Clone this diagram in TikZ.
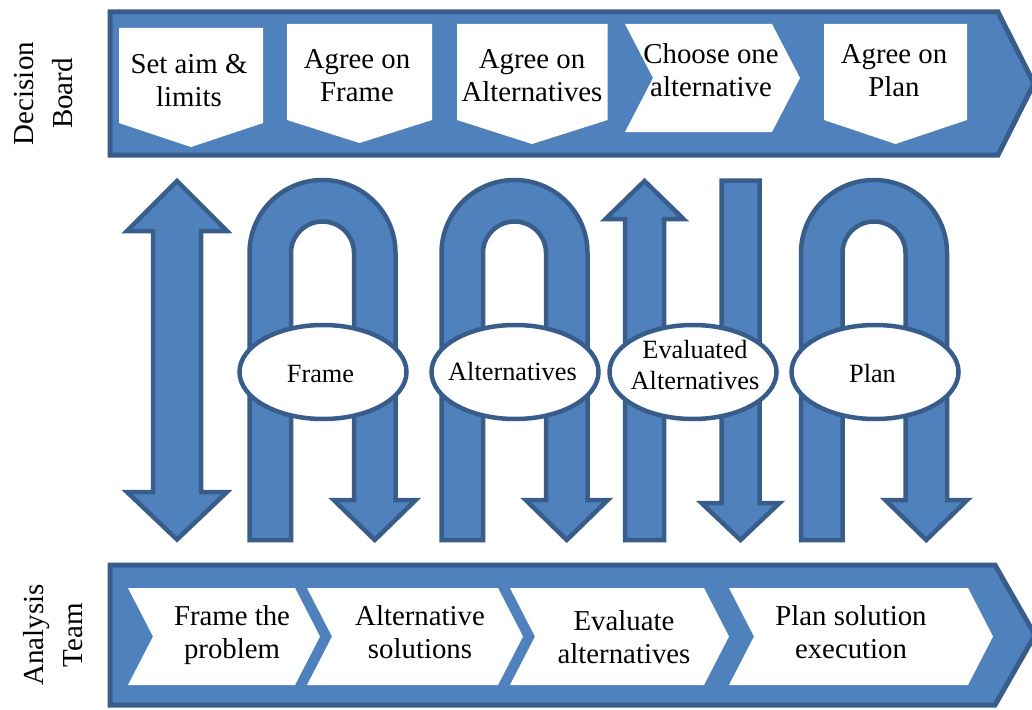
\documentclass[tikz,border=0pt]{standalone}
\usepackage{fontspec}
\setmainfont{Liberation Serif}
\newfontfamily\flowfont{Liberation Serif}
\definecolor{flowblue}{HTML}{4F81BD}
\definecolor{flowedge}{HTML}{385D8A}
\begin{document}
\begin{tikzpicture}[x=1pt,y=-1pt,
  band/.style={fill=flowblue, draw=flowedge, line width=5pt, line join=miter},
  card/.style={fill=white},
  flowarrow/.style={fill=flowblue, draw=flowedge, line width=4.5pt, line join=miter},
  bubble/.style={fill=white, draw=flowedge, line width=4.5pt},
  boxtext/.style={align=center, font=\flowfont\fontsize{28.8}{33}\selectfont, inner sep=0pt},
  bubbletext/.style={align=center, font=\flowfont\fontsize{26.3}{31}\selectfont, inner sep=0pt},
  sidetext/.style={align=center, rotate=90, font=\flowfont\fontsize{29}{39}\selectfont, inner sep=0pt},
]
\useasboundingbox (0,0) rectangle (1032,709);

% U-shaped arrow: up the left leg, over the arc, down to a head on the right leg
\def\UArrow#1{%
  \pgfmathsetmacro\ua{#1-73}\pgfmathsetmacro\ub{#1-31.5}%
  \pgfmathsetmacro\uc{#1+31.5}\pgfmathsetmacro\ud{#1+73}%
  \pgfmathsetmacro\um{#1+52.25}%
  \path[flowarrow] (\ua,540) -- (\ua,253) arc[start angle=180,end angle=0,radius=73pt]
    -- (\ud,500) -- ({\um+41},500) -- (\um,540) -- ({\um-41},500) -- (\uc,500)
    -- (\uc,253) arc[start angle=0,end angle=180,radius=31.5pt] -- (\ub,540) -- cycle;}

% ---- Decision board band ----
\path[band] (110,12) -- (998,12) -- (1034,83.5) -- (998,155) -- (110,155) -- cycle;
\path[card] (119,28) -- (263,28) -- (263,123) -- (191,147) -- (119,123) -- cycle;
\path[card] (287,24) -- (432,24) -- (432,120) -- (359.5,143) -- (287,120) -- cycle;
\path[card] (457,24) -- (607.5,24) -- (607.5,120) -- (532,144) -- (457,120) -- cycle;
\path[card] (625,24) -- (772,24) -- (800,78) -- (772,132) -- (625,132) -- (653,78) -- cycle;
\path[card] (824,24) -- (967,24) -- (967,120) -- (895.5,144) -- (824,120) -- cycle;

\node[boxtext] (aim)    at (189,83)  {\strut Set aim \&\\\strut limits};
\node[boxtext] (agfr)   at (357,78)  {\strut Agree on\\\strut Frame};
\node[boxtext] (agalt)  at (532,78.5){\strut Agree on\\\strut Alternatives};
\node[boxtext] (choose) at (711,73)  {\strut Choose one\\\strut alternative};
\node[boxtext] (agplan) at (894,73)  {\strut Agree on\\\strut Plan};

\node[sidetext] (board) at (44.7,93.5) {\strut Decision\\\strut Board};

% ---- Analysis team band ----
\path[band] (110,565) -- (995,565) -- (1035,635) -- (995,705) -- (110,705) -- cycle;
\path[card] (128,588) -- (295,588) -- (320,636.5) -- (295,685) -- (128,685) -- (153,636.5) -- cycle;
\path[card] (307,588) -- (498,588) -- (523,636.5) -- (498,685) -- (307,685) -- (332,636.5) -- cycle;
\path[card] (510,588) -- (704,588) -- (729,636.5) -- (704,685) -- (510,685) -- (535,636.5) -- cycle;
\path[card] (729,588) -- (968,588) -- (993,636.5) -- (968,685) -- (729,685) -- (754,636.5) -- cycle;

\node[boxtext] (frameit) at (232,635) {\strut Frame the\\\strut problem};
\node[boxtext] (altsol)  at (420,635) {\strut Alternative\\\strut solutions};
\node[boxtext] (evalalt) at (624,640) {\strut Evaluate\\\strut alternatives};
\node[boxtext] (planex)  at (851,635) {\strut Plan solution\\\strut execution};

\node[sidetext] (team) at (54.7,635) {\strut Analysis\\\strut Team};

% ---- arrows between the two bands ----
\path[flowarrow] (177,181) -- (227,231) -- (201,231) -- (201,492) -- (227,492)
  -- (177,539.5) -- (127,492) -- (153,492) -- (153,231) -- (127,231) -- cycle;
\UArrow{322.5}
\UArrow{514.5}
\path[flowarrow] (644.5,181) -- (683.5,219) -- (664,219) -- (664,540) -- (625,540)
  -- (625,219) -- (605.5,219) -- cycle;
\path[flowarrow] (721.5,180.5) -- (759.5,180.5) -- (759.5,503) -- (779.5,503)
  -- (740.5,540) -- (701.5,503) -- (721.5,503) -- cycle;
\UArrow{874}

% ---- hand-over products ----
\path[bubble] (323,372) ellipse[x radius=83.5pt, y radius=47pt];
\path[bubble] (515,372) ellipse[x radius=83.5pt, y radius=47pt];
\path[bubble] (693,372) ellipse[x radius=83.5pt, y radius=47pt];
\path[bubble] (875,372) ellipse[x radius=83.5pt, y radius=47pt];

\node[bubbletext] (frame) at (320.5,376.5) {\strut Frame};
\node[bubbletext] (alts)  at (512.5,374.5) {\strut Alternatives};
\node[bubbletext] (evald) at (695,367.3)   {\strut Evaluated\\\strut Alternatives};
\node[bubbletext] (plan)  at (872.5,375.8) {\strut Plan};
\end{tikzpicture}
\end{document}
